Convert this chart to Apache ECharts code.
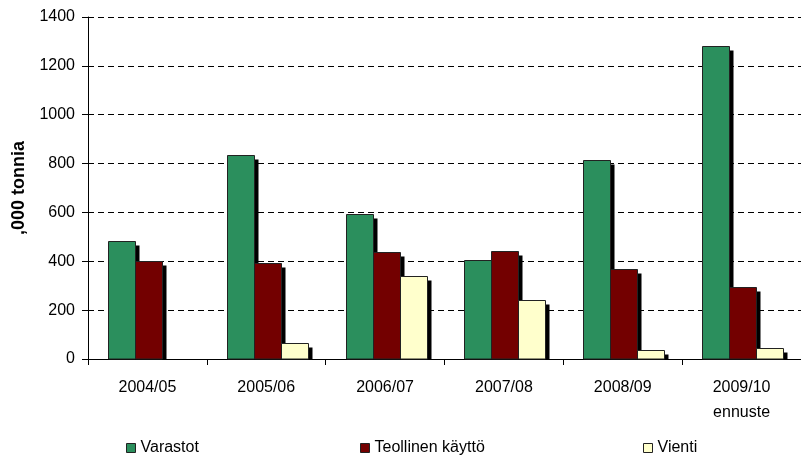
<!DOCTYPE html>
<html>
<head>
<meta charset="utf-8">
<script src="https://cdn.jsdelivr.net/npm/echarts@6/dist/echarts.min.js"></script>
<style>
  html, body { margin: 0; padding: 0; background: #fff; }
  #chart { width: 801px; height: 458px; }
</style>
</head>
<body>
<div id="chart"></div>
<script>
// 类目与数值
const categories = ['2004/05', '2005/06', '2006/07', '2007/08', '2008/09', '2009/10\nennuste'];
const varastot = [485, 835, 595, 405, 815, 1280];
const teollinen = [400, 394, 436, 443, 370, 293];
const vienti = [null, 65, 340, 240, 35, 47];
const yTicks = [0, 200, 400, 600, 800, 1000, 1200, 1400];

const FONT = 'Liberation Sans, Arial, sans-serif';
const BAR_W = 27;     // 单根柱宽
const SHADOW = 4;     // 阴影偏移

// 自定义柱：先画黑色阴影，再画带边框的柱体（避免描边阴影压到柱内）
function barSeries(name, color, values, idx) {
    return {
        name: name,
        type: 'custom',
        data: values.map((v, i) => [i, v]),
        encode: { x: 0, y: 1 },
        itemStyle: { color: color, borderColor: '#222', borderWidth: 1 },
        renderItem: (params, api) => {
            const v = api.value(1);
            if (v == null || isNaN(v)) return null;
            const base = api.coord([api.value(0), 0]);
            const top = api.coord([api.value(0), v]);
            const x = Math.round(base[0] - BAR_W * 1.5 + idx * BAR_W) + 1.5;
            const y0 = Math.round(top[1]) + 0.5;
            const h = base[1] - y0;
            return {
                type: 'group',
                children: [
                    { type: 'rect', shape: { x: x + SHADOW, y: y0 + SHADOW, width: BAR_W, height: Math.max(0, h - SHADOW) },
                      style: { fill: '#000' } },
                    { type: 'rect', shape: { x: x, y: y0, width: BAR_W, height: h },
                      style: { fill: api.visual('color'), stroke: '#222', lineWidth: 1 } }
                ]
            };
        }
    };
}

function legendAt(name, left) {
    return {
        data: [name],
        left: left,
        top: 435,
        icon: 'rect',
        itemWidth: 9,
        itemHeight: 9,
        itemGap: 0,
        itemStyle: { borderColor: '#222', borderWidth: 1 },
        textStyle: { fontFamily: FONT, fontSize: 16, color: '#000' }
    };
}

const chart = echarts.init(document.getElementById('chart'));
chart.setOption({
    animation: false,
    backgroundColor: '#fff',
    grid: { left: 88, top: 17, width: 722, bottom: 99, containLabel: false },
    legend: [
        legendAt('Varastot', 121),
        legendAt('Teollinen käyttö', 355),
        legendAt('Vienti', 638)
    ],
    xAxis: {
        type: 'category',
        data: categories,
        axisLine: { lineStyle: { color: '#000', width: 1 } },
        axisTick: { show: true, length: 6, lineStyle: { color: '#000' } },
        axisLabel: { fontFamily: FONT, fontSize: 16, color: '#000', margin: 16, lineHeight: 25 }
    },
    yAxis: {
        type: 'value',
        min: 0,
        max: 1400,
        interval: 200,
        name: ',000 tonnia',
        nameLocation: 'middle',
        nameRotate: 90,
        nameGap: 52,
        nameTextStyle: { fontFamily: FONT, fontSize: 18, fontWeight: 'bold', color: '#000' },
        axisLine: { show: true, lineStyle: { color: '#000', width: 1 } },
        axisTick: { show: true, length: 6, lineStyle: { color: '#000' } },
        axisLabel: {
            fontFamily: FONT, fontSize: 16, color: '#000', margin: 13,
            formatter: v => (yTicks.indexOf(v) >= 0 ? String(v) : '')
        },
        splitLine: { show: true, lineStyle: { color: '#000', width: 1, type: [6, 4] } }
    },
    series: [
        barSeries('Varastot', '#2b8f5d', varastot, 0),
        barSeries('Teollinen käyttö', '#730000', teollinen, 1),
        barSeries('Vienti', '#ffffcc', vienti, 2)
    ]
});
</script>
</body>
</html>
